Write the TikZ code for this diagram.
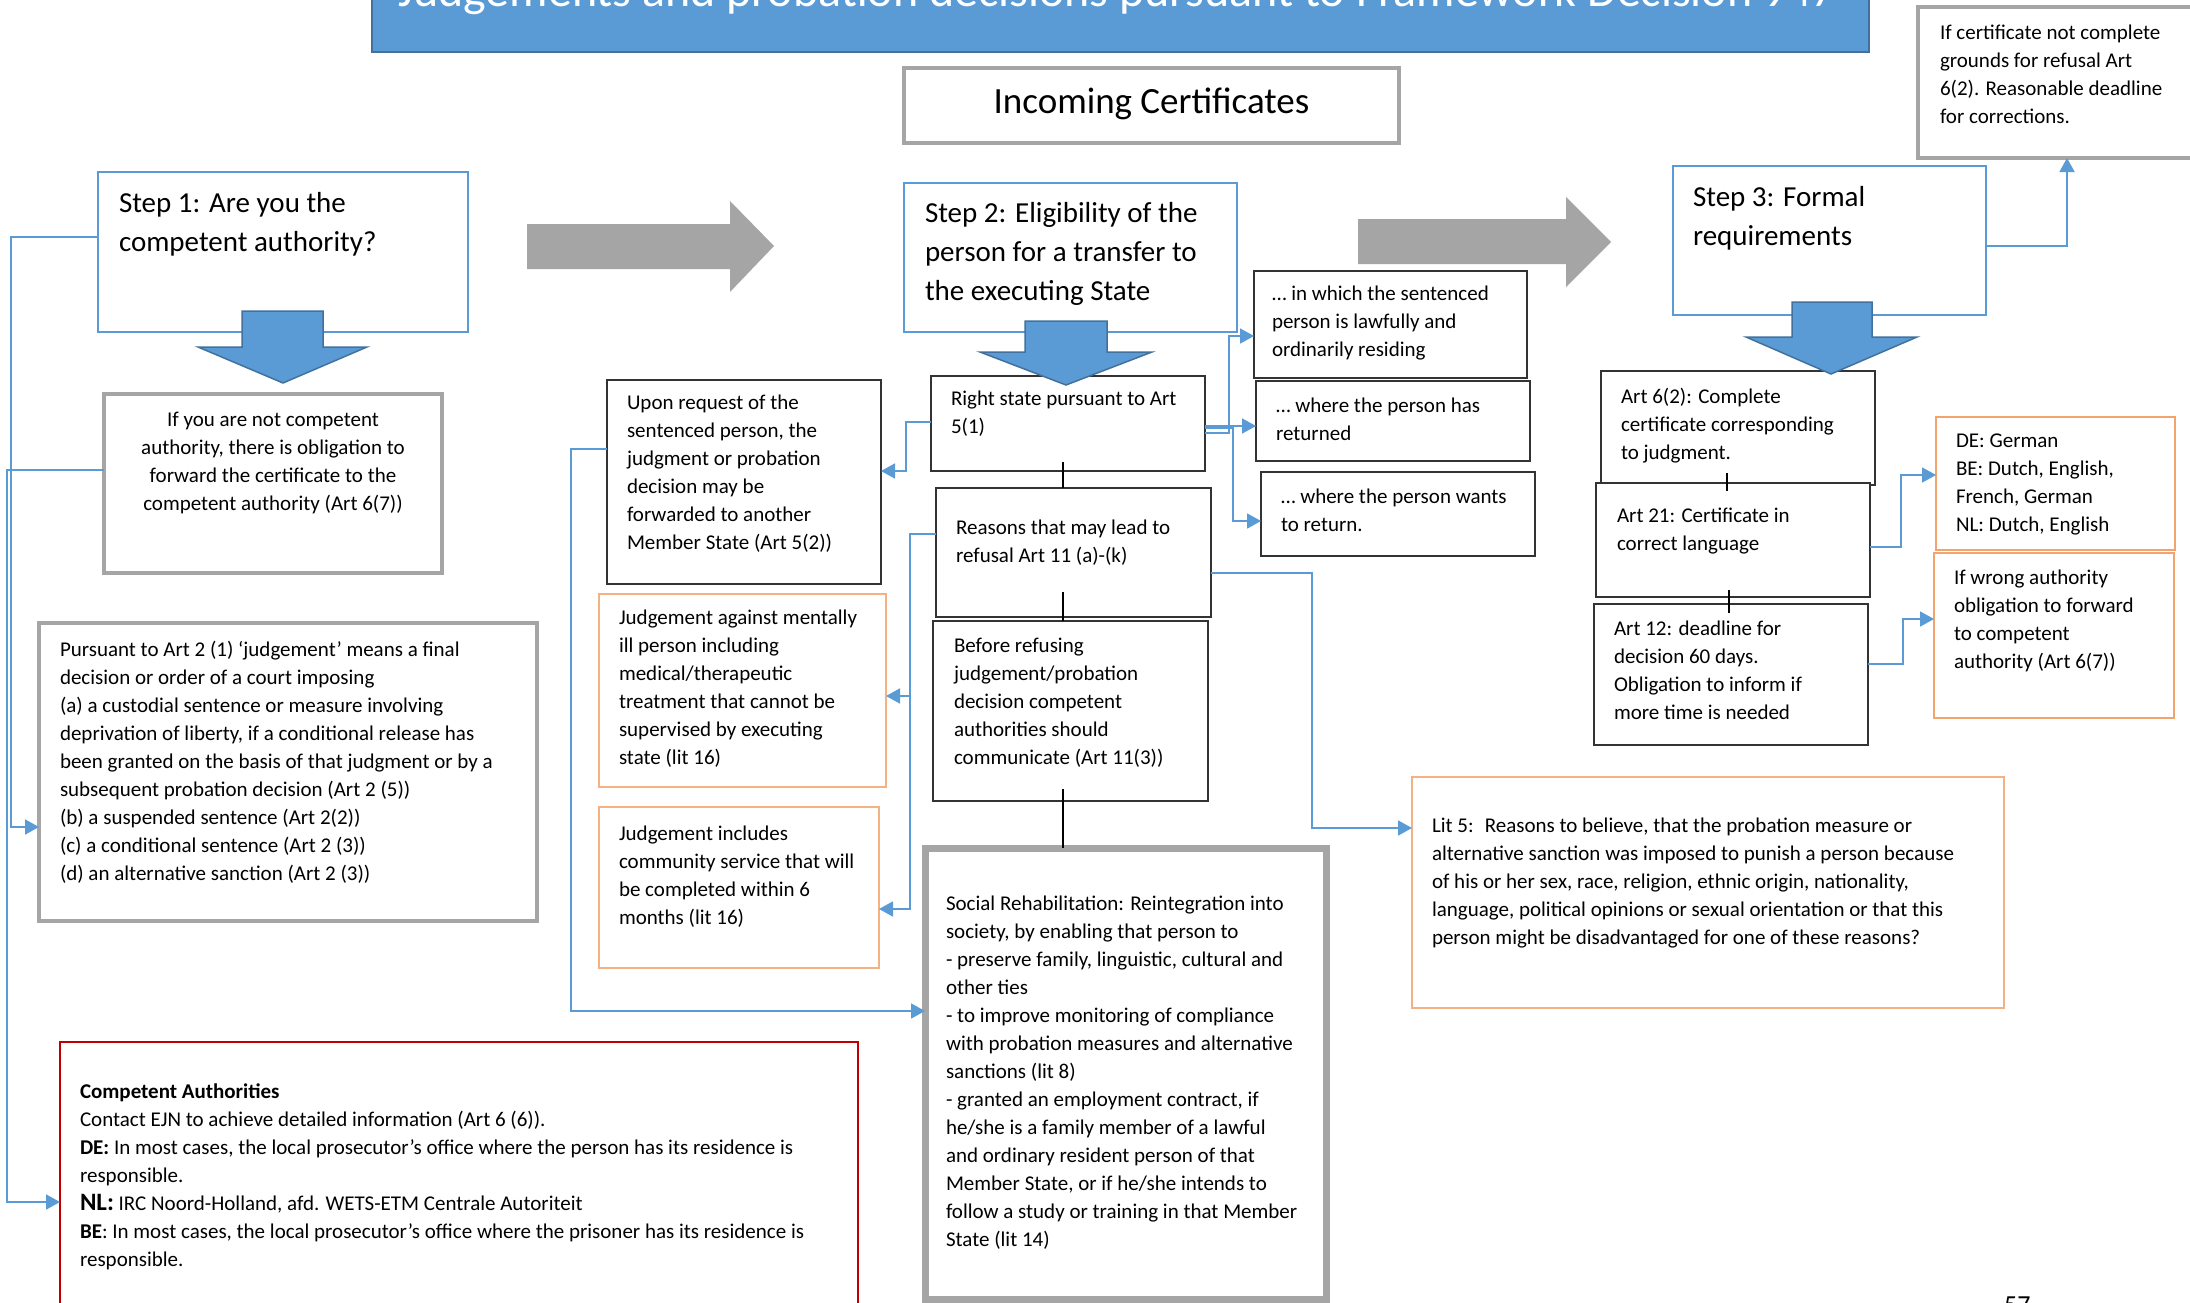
\documentclass[tikz,border=0pt]{standalone}
\usepackage{fontspec}
\setmainfont{Carlito}
\usetikzlibrary{arrows.meta}

\definecolor{blueA}{HTML}{5B9BD5}
\definecolor{blueD}{HTML}{41719C}
\definecolor{grayA}{HTML}{A5A5A5}
\definecolor{orangeA}{HTML}{F4B183}
\definecolor{orangeB}{HTML}{F2A36E}
\definecolor{redA}{HTML}{C00000}

\newcommand{\cell}[5]{\parbox[t][#2][t]{#1}{\raggedright\leftskip=#3\relax\vspace*{#4}#5}}
\newcommand{\cellc}[4]{\parbox[t][#2][t]{#1}{\centering\vspace*{#3}#4}}

\tikzset{
    box/.style={draw, fill=white, anchor=north west, inner sep=0pt, outer sep=0pt, font={\fontsize{21}{28}\selectfont}},
    thinbox/.style={box, draw=black!80, line width=1.5pt},
    graybox/.style={box, draw=grayA, line width=3.5pt},
    stepbox/.style={box, draw=blueA, line width=2.5pt, font={\fontsize{29}{39}\selectfont}},
    orangebox/.style={box, draw=orangeA, line width=1.8pt},
    link/.style={draw=blueA, line width=1.8pt, -{Triangle[length=14pt,width=15pt]}},
    tick/.style={draw=black, line width=1.3pt},
    blockblue/.style={fill=blueA, draw=blueD, line width=1.5pt},
    blockgray/.style={fill=grayA},
}

\begin{document}
\begin{tikzpicture}[x=1pt, y=-1pt]
            \path[use as bounding box, fill=white] (0,0) rectangle (2190,1303);

            \node[box, fill=blueA, draw=blueD, line width=2pt, text=white, font={\fontsize{48}{58}\selectfont}] (title) at (372,-60) {\cell{1497pt}{112pt}{26pt}{33pt}{\mbox{Judgements and probation decisions pursuant to Framework Decision 947}}};
            \node[graybox, font={\fontsize{37}{44}\selectfont}] (incoming) at (904,68) {\cellc{495pt}{75pt}{20pt}{Incoming Certificates}};

            % step 1
            \node[stepbox] (step1) at (98,172) {\cell{370pt}{160pt}{21pt}{20pt}{Step 1: Are you the\\competent authority?}};
            \node[graybox] (notcomp) at (104,394) {\cellc{338pt}{179pt}{18pt}{If you are not competent\\authority, there is obligation to\\forward the certificate to the\\competent authority (Art 6(7))}};
            \node[graybox] (pursuant) at (39,623) {\cell{498pt}{298pt}{21pt}{18pt}{Pursuant to Art 2 (1) ‘judgement’ means a final\\decision or order of a court imposing\\(a) a custodial sentence or measure involving\\deprivation of liberty, if a conditional release has\\been granted on the basis of that judgment or by a\\subsequent probation decision (Art 2 (5))\\(b) a suspended sentence (Art 2(2))\\(c) a conditional sentence (Art 2 (3))\\(d) an alternative sanction (Art 2 (3))}};
            \node[box, draw=redA, line width=2.5pt] (compauth) at (60,1042) {\cell{798pt}{268pt}{20pt}{42pt}{\textbf{Competent Authorities}\\Contact EJN to achieve detailed information (Art 6 (6)).\\\textbf{DE:} In most cases, the local prosecutor’s office where the person has its residence is\\responsible.\\{\fontsize{25}{28}\selectfont\textbf{NL:}} IRC Noord-Holland, afd. WETS-ETM Centrale Autoriteit\\\textbf{BE}: In most cases, the local prosecutor’s office where the prisoner has its residence is\\responsible.}};

            % step 2
            \node[stepbox] (step2) at (904,183) {\cell{333pt}{149pt}{21pt}{19pt}{Step 2: Eligibility of the\\person for a transfer to\\the executing State}};
            \node[thinbox] (upon) at (607,380) {\cell{274pt}{204pt}{20pt}{15pt}{Upon request of the\\sentenced person, the\\judgment or probation\\decision may be\\forwarded to another\\Member State (Art 5(2))}};
            \node[orangebox] (mentally) at (599,594) {\cell{287pt}{193pt}{20pt}{16pt}{Judgement against mentally\\ill person including\\medical/therapeutic\\treatment that cannot be\\supervised by executing\\state (lit 16)}};
            \node[orangebox] (community) at (599,807) {\cell{280pt}{161pt}{20pt}{19pt}{Judgement includes\\community service that will\\be completed within 6\\months (lit 16)}};
            \node[thinbox] (rightstate) at (931,376) {\cell{274pt}{95pt}{20pt}{15pt}{Right state pursuant to Art\\5(1)}};
            \node[thinbox] (reasons) at (936,488) {\cell{275pt}{129pt}{20pt}{32pt}{Reasons that may lead to\\refusal Art 11 (a)-(k)}};
            \node[thinbox] (before) at (933,621) {\cell{275pt}{180pt}{21pt}{17pt}{Before refusing\\judgement/probation\\decision competent\\authorities should\\communicate (Art 11(3))}};
            \node[box, draw=grayA, line width=7pt] (social) at (925,848) {\cell{401pt}{451pt}{21pt}{48pt}{Social Rehabilitation: Reintegration into\\society, by enabling that person to\\- preserve family, linguistic, cultural and\\other ties\\- to improve monitoring of compliance\\with probation measures and alternative\\sanctions (lit 8)\\- granted an employment contract, if\\he/she is a family member of a lawful\\and ordinary resident person of that\\Member State, or if he/she intends to\\follow a study or training in that Member\\State (lit 14)}};
            \node[thinbox] (inwhich) at (1254,271) {\cell{273pt}{107pt}{18pt}{15pt}{… in which the sentenced\\person is lawfully and\\ordinarily residing}};
            \node[thinbox] (returned) at (1256,381) {\cell{274pt}{80pt}{20pt}{17pt}{… where the person has\\returned}};
            \node[thinbox] (wants) at (1261,472) {\cell{274pt}{84pt}{20pt}{17pt}{… where the person wants\\to return.}};
            \node[orangebox] (litfive) at (1412,777) {\cell{592pt}{231pt}{20pt}{41pt}{Lit 5:~ Reasons to believe, that the probation measure or\\alternative sanction was imposed to punish a person because\\of his or her sex, race, religion, ethnic origin, nationality,\\language, political opinions or sexual orientation or that this\\person might be disadvantaged for one of these reasons?}};

            % step 3
            \node[stepbox] (step3) at (1673,166) {\cell{313pt}{149pt}{20pt}{20pt}{Step 3: Formal\\requirements}};
            \node[graybox] (corrections) at (1918,7) {\cell{282pt}{151pt}{22pt}{18pt}{If certificate not complete\\grounds for refusal Art\\6(2). Reasonable deadline\\for corrections.}};
            \node[thinbox] (art6) at (1601,371) {\cell{274pt}{114pt}{20pt}{17pt}{Art 6(2): Complete\\certificate corresponding\\to judgment.}};
            \node[thinbox] (art21) at (1596,483) {\cell{274pt}{114pt}{21pt}{25pt}{Art 21: Certificate in\\correct language}};
            \node[thinbox] (art12) at (1594,604) {\cell{274pt}{141pt}{20pt}{17pt}{Art 12: deadline for\\decision 60 days.\\Obligation to inform if\\more time is needed}};
            \node[box, draw=orangeB, line width=1.8pt] (languages) at (1936,417) {\cell{239pt}{133pt}{20pt}{17pt}{DE: German\\BE: Dutch, English,\\French, German\\NL: Dutch, English}};
            \node[box, draw=orangeB, line width=1.8pt] (wrongauth) at (1934,553) {\cell{240pt}{165pt}{20pt}{17pt}{If wrong authority\\obligation to forward\\to competent\\authority (Art 6(7))}};

            \node[anchor=north west, inner sep=0pt, font={\fontsize{26}{30}\selectfont}] (pagenum) at (2004,1297) {57};

            % block arrows
            \filldraw[blockblue] (242,311) -- (323,311) -- (323,347) -- (367,347) -- (283,383) -- (198,347) -- (242,347) -- cycle;
            \filldraw[blockblue] (1025,321) -- (1107,321) -- (1107,352) -- (1152,352) -- (1066,385) -- (980,352) -- (1025,352) -- cycle;
            \filldraw[blockblue] (1792,302) -- (1872,302) -- (1872,337) -- (1917,337) -- (1831,374) -- (1746,337) -- (1792,337) -- cycle;
            \fill[blockgray] (527,224) -- (730,224) -- (730,201) -- (774,246) -- (730,292) -- (730,269) -- (527,269) -- cycle;
            \fill[blockgray] (1358,219) -- (1566,219) -- (1566,197) -- (1611,242) -- (1566,287) -- (1566,264) -- (1358,264) -- cycle;

            % connectors
            \draw[link] ([yshift=-65pt]step1.north west) -| ([xshift=-28pt,yshift=-204pt]pursuant.north west) -- ([yshift=-204pt]pursuant.north west);
            \draw[link] ([yshift=-76pt]notcomp.north west) -| ([xshift=-53pt,yshift=-160pt]compauth.north west) -- ([yshift=-160pt]compauth.north west);
            \draw[link] ([yshift=-69pt]upon.north west) -| ([xshift=-354pt,yshift=-163pt]social.north west) -- ([yshift=-163pt]social.north west);
            \draw[link] ([yshift=-46pt]rightstate.north west) -| ([xshift=25pt,yshift=-91pt]upon.north east) -- ([yshift=-91pt]upon.north east);
            \draw[link] ([yshift=-46pt]reasons.north west) -| ([xshift=31pt,yshift=-102pt]community.north east) -- ([yshift=-102pt]community.north east);
            \draw[link] ([xshift=24pt,yshift=-102pt]mentally.north east) -- ([yshift=-102pt]mentally.north east);
            \draw[link] ([yshift=-57pt]rightstate.north east) -| ([xshift=-25pt,yshift=-65pt]inwhich.north west) -- ([yshift=-65pt]inwhich.north west);
            \draw[link] ([yshift=-50pt]rightstate.north east) -- ([yshift=-45pt]returned.north west);
            \draw[link] ([yshift=-52pt]rightstate.north east) -| ([xshift=-28pt,yshift=-49pt]wants.north west) -- ([yshift=-49pt]wants.north west);
            \draw[link] ([yshift=-85pt]reasons.north east) -| ([xshift=-100pt,yshift=-51pt]litfive.north west) -- ([yshift=-51pt]litfive.north west);
            \draw[link] ([yshift=-80pt]step3.north east) -| ([xshift=149pt]corrections.south west);
            \draw[link] ([yshift=-64pt]art21.north east) -| ([xshift=-35pt,yshift=-58pt]languages.north west) -- ([yshift=-58pt]languages.north west);
            \draw[link] ([yshift=-60pt]art12.north east) -| ([xshift=-31pt,yshift=-66pt]wrongauth.north west) -- ([yshift=-66pt]wrongauth.north west);

            \draw[tick] ([xshift=127pt,yshift=26pt]reasons.north west) -- ([xshift=127pt]reasons.north west);
            \draw[tick] ([xshift=130pt,yshift=29pt]before.north west) -- ([xshift=130pt]before.north west);
            \draw[tick] ([xshift=130pt,yshift=12pt]before.south west) -- ([xshift=138pt]social.north west);
            \draw[tick] ([xshift=131pt,yshift=10pt]art21.north west) -- ([xshift=131pt,yshift=-8pt]art21.north west);
            \draw[tick] ([xshift=135pt,yshift=14pt]art12.north west) -- ([xshift=135pt,yshift=-9pt]art12.north west);
        \end{tikzpicture}
\end{document}
